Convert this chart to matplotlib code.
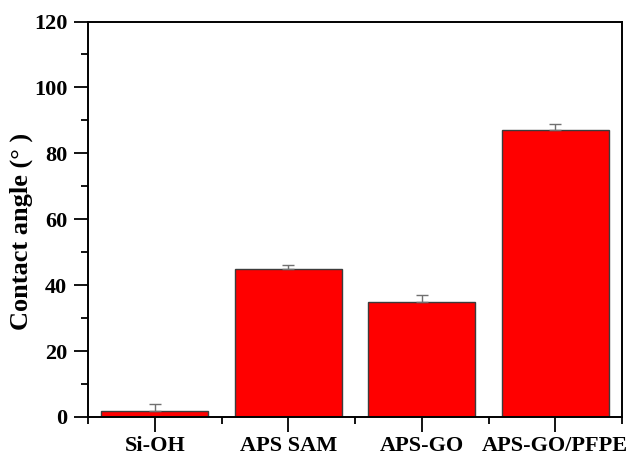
import numpy as np
import matplotlib.pyplot as plt
from matplotlib.ticker import MultipleLocator, FixedLocator

# Water contact angle for each surface treatment
samples = ["Si-OH", "APS SAM", "APS-GO", "APS-GO/PFPE"]
angle = [1.8, 45, 35, 87]
angle_err = [2.0, 1.0, 2.0, 2.0]

plt.rcParams['font.family'] = ['Liberation Serif', 'DejaVu Serif']
plt.rcParams['font.weight'] = 'bold'

fig = plt.figure(figsize=(6.33, 4.57), dpi=100)
ax = fig.add_axes([88 / 633, 40 / 457, 534 / 633, 395.5 / 457])

x = np.arange(1, len(samples) + 1)
ax.bar(x, angle, width=0.8, color='#ff0000', edgecolor='#3c3c3c', linewidth=1.0,
       yerr=[np.zeros(len(angle)), angle_err], ecolor='#707070',
       error_kw=dict(elinewidth=1.0, capsize=4, capthick=1.0), zorder=2)

ax.set_xlim(0.5, 4.5)
ax.set_ylim(0, 120)
ax.set_xticks(x)
ax.set_xticklabels(samples, fontsize=16, fontweight='bold')
ax.xaxis.set_minor_locator(FixedLocator([0.5, 1.5, 2.5, 3.5, 4.5]))
ax.yaxis.set_major_locator(MultipleLocator(20))
ax.yaxis.set_minor_locator(MultipleLocator(10))
for lab in ax.get_yticklabels():
    lab.set_fontsize(16)
    lab.set_fontweight('bold')

ax.tick_params(axis='both', which='major', direction='out', width=1.3)
ax.tick_params(axis='both', which='minor', direction='out', length=5, width=1.3)
ax.tick_params(axis='x', which='major', length=11, pad=3)
ax.tick_params(axis='y', which='major', length=10, pad=5)

for s in ax.spines.values():
    s.set_linewidth(1.4)

ax.set_ylabel("Contact angle (° )", fontsize=19, fontweight='bold')
ax.yaxis.set_label_coords(-0.103, 0.468)

fig.savefig("out.png", dpi=100)
